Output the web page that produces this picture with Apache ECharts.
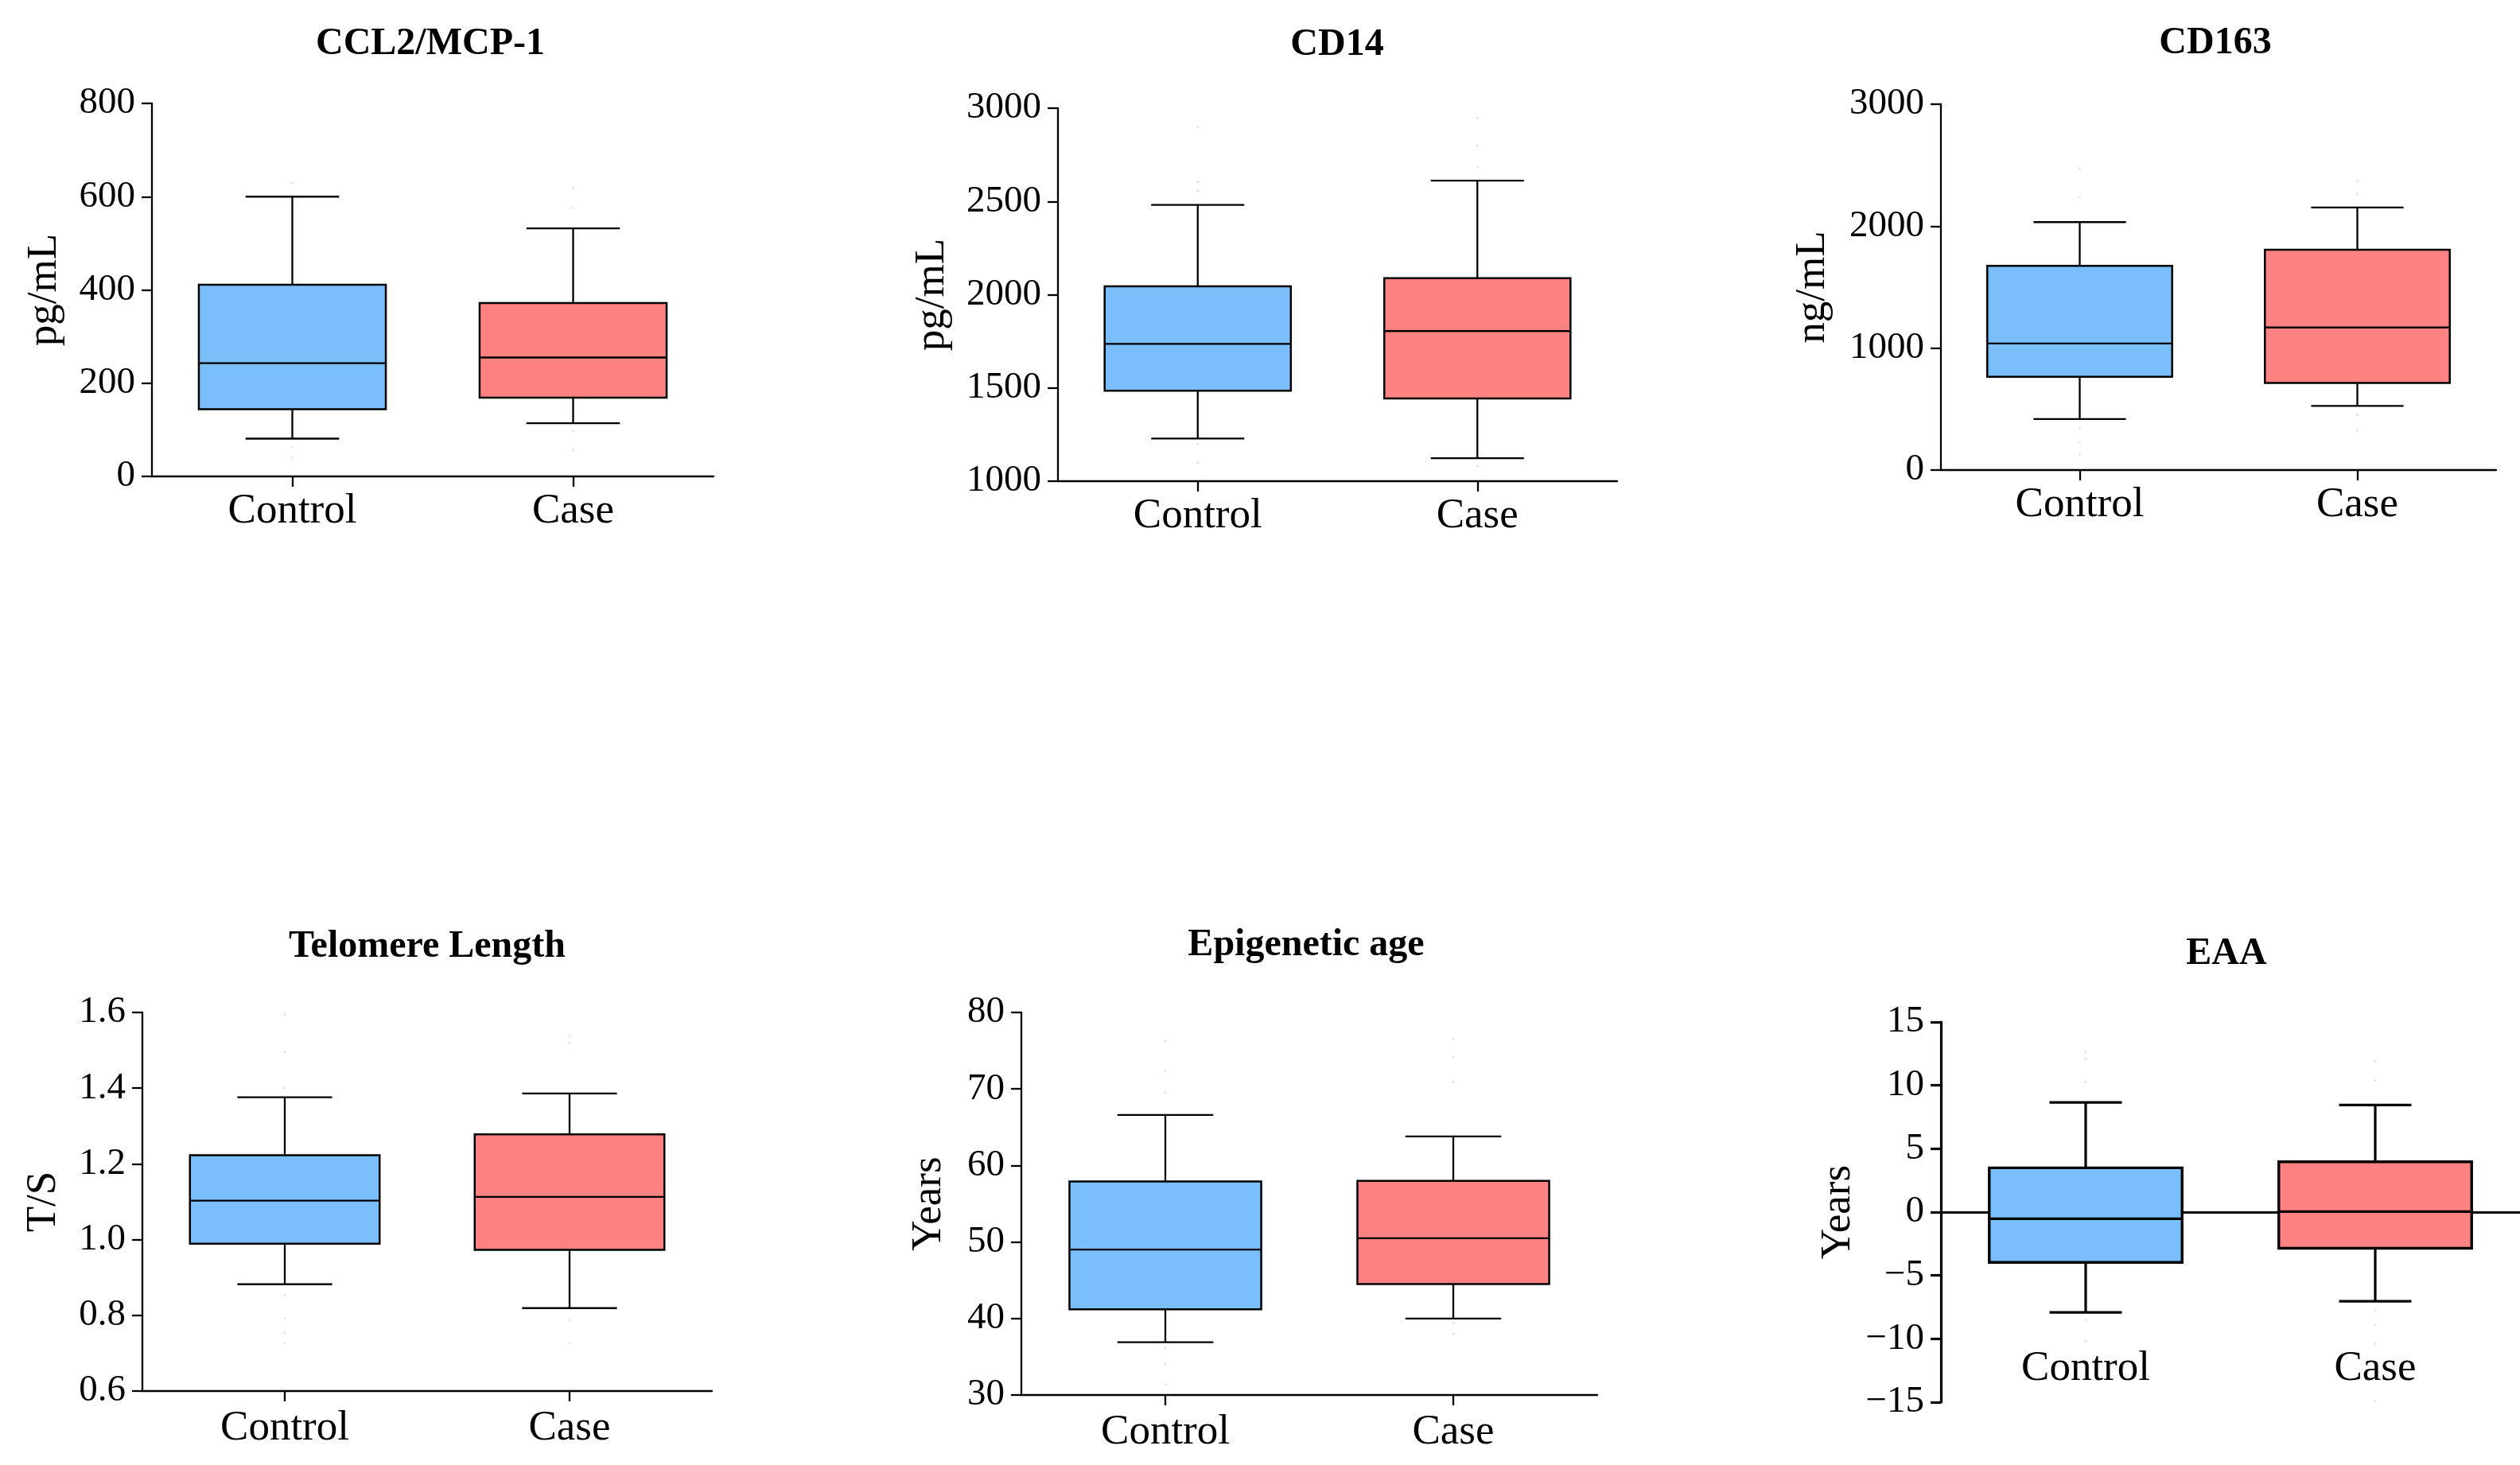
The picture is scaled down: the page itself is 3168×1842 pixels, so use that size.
<!DOCTYPE html>
<html>
<head>
<meta charset="utf-8">
<script src="https://cdn.jsdelivr.net/npm/echarts@6/dist/echarts.min.js"></script>
<style>
html,body{margin:0;padding:0;background:#fff;}
#chart{width:3168px;height:1842px;}
</style>
</head>
<body>
<div id="chart"></div>
<script>
// ---------- data ----------
const groups = ['Control', 'Case'];
const titles = ['CCL2/MCP-1', 'CD14', 'CD163', 'Telomere Length', 'Epigenetic age', 'EAA'];
const units = ['pg/mL', 'pg/mL', 'ng/mL', 'T/S', 'Years', 'Years'];
const yMin = [0, 1000, 0, 0.6, 30, -15];
const yMax = [800, 3000, 3000, 1.6, 80, 15];
const yStep = [200, 500, 1000, 0.2, 10, 5];

// [lower whisker, Q1, median, Q3, upper whisker]
const ccl2Control = [81, 144, 243, 411, 600];
const ccl2Case = [114, 169, 255, 372, 532];
const cd14Control = [1229, 1485, 1736, 2045, 2481];
const cd14Case = [1123, 1444, 1805, 2089, 2611];
const cd163Control = [418, 765, 1038, 1675, 2033];
const cd163Case = [526, 714, 1169, 1806, 2153];
const telControl = [0.882, 0.989, 1.103, 1.223, 1.376];
const telCase = [0.819, 0.973, 1.113, 1.278, 1.386];
const epiControl = [36.9, 41.2, 49.0, 57.9, 66.6];
const epiCase = [40.0, 44.5, 50.5, 58.0, 63.8];
const eaaControl = [-7.92, -3.97, -0.52, 3.49, 8.65];
const eaaCase = [-7.04, -2.86, 0.04, 3.97, 8.45];

// faint individual points outside whiskers
const ccl2ControlOut = [629, 63, 41];
const ccl2CaseOut = [620, 576, 97, 56];
const cd14ControlOut = [2901, 2604, 2558, 1201, 1099];
const cd14CaseOut = [2948, 2799, 2682, 1080];
const cd163ControlOut = [2474, 2238, 341, 227, 128];
const cd163CaseOut = [2369, 2261, 455, 327];
const telControlOut = [1.595, 1.496, 1.401, 0.853, 0.792, 0.754, 0.726];
const telCaseOut = [1.539, 1.52, 0.787, 0.726];
const epiControlOut = [76.3, 72.3, 69.5, 36.1, 34.0, 31.4];
const epiCaseOut = [76.5, 74.2, 70.9, 39.4, 38.0];
const eaaControlOut = [12.66, 12.1, 10.26, -8.5, -10.2];
const eaaCaseOut = [11.9, 10.4, -7.75, -8.9, -10.4, -14.9];

const boxData = [
  [ccl2Control, ccl2Case], [cd14Control, cd14Case], [cd163Control, cd163Case],
  [telControl, telCase], [epiControl, epiCase], [eaaControl, eaaCase]
];
const outData = [
  [ccl2ControlOut, ccl2CaseOut], [cd14ControlOut, cd14CaseOut], [cd163ControlOut, cd163CaseOut],
  [telControlOut, telCaseOut], [epiControlOut, epiCaseOut], [eaaControlOut, eaaCaseOut]
];

// ---------- layout / style ----------
const layout = [
  {left:191, top:130, width:706, height:469, tx:541, ty:32, gap:108, lm:18, cap:0.333, lw:2.3},
  {left:1330, top:136, width:703, height:469, tx:1681, ty:33, gap:131, lm:18, cap:0.333, lw:2.3},
  {left:2440, top:131, width:698, height:460, tx:2785, ty:31, gap:134, lm:18, cap:0.333, lw:2.3},
  {left:179, top:1273, width:716, height:476, tx:537, ty:1167, gap:97, lm:21, cap:0.333, lw:2.3},
  {left:1284, top:1273, width:724, height:481, tx:1642, ty:1165, gap:89, lm:21, cap:0.333, lw:2.3},
  {left:2440, top:1285, width:728, height:478, tx:2799, ty:1176, gap:102, lm:-68, cap:0.25, lw:3.2}
];
const FONT = '"Liberation Serif", "Times New Roman", serif';
const fills = ['#7ABFFB', '#FF8282'];

function fmt(i) {
  return function (v) {
    if (i === 3) return v.toFixed(1);
    if (v < 0) return '\u2212' + Math.abs(v);
    return String(v);
  };
}

function makeRender(l) {
  return function (params, api) {
    const xi = api.value(0);
    const lo = api.coord([xi, api.value(1)]);
    const q1 = api.coord([xi, api.value(2)]);
    const md = api.coord([xi, api.value(3)]);
    const q3 = api.coord([xi, api.value(4)]);
    const hi = api.coord([xi, api.value(5)]);
    const band = api.size([1, 0])[0];
    const bw = band * 0.666, cw = band * l.cap;
    const cx = lo[0];
    const st = {stroke:'#000', lineWidth:l.lw};
    return {
      type:'group',
      children:[
        {type:'line', shape:{x1:cx, y1:q3[1], x2:cx, y2:hi[1]}, style:st},
        {type:'line', shape:{x1:cx, y1:q1[1], x2:cx, y2:lo[1]}, style:st},
        {type:'line', shape:{x1:cx - cw/2, y1:hi[1], x2:cx + cw/2, y2:hi[1]}, style:st},
        {type:'line', shape:{x1:cx - cw/2, y1:lo[1], x2:cx + cw/2, y2:lo[1]}, style:st},
        {type:'rect', shape:{x:cx - bw/2, y:q3[1], width:bw, height:q1[1] - q3[1]},
          style:{fill:fills[params.dataIndex], stroke:'#000', lineWidth:l.lw + 0.2}},
        {type:'line', shape:{x1:cx - bw/2, y1:md[1], x2:cx + bw/2, y2:md[1]}, style:st}
      ]
    };
  };
}

const series = [];
boxData.forEach((pair, i) => {
  const l = layout[i];
  series.push({
    type:'scatter', xAxisIndex:i, yAxisIndex:i, symbolSize:3, silent:true,
    itemStyle:{color:'#dcdcdc'},
    data:[].concat(outData[i][0].map(v => [0, v]), outData[i][1].map(v => [1, v]))
  });
  series.push({
    type:'custom', xAxisIndex:i, yAxisIndex:i,
    renderItem:makeRender(l),
    encode:{x:0, y:[1, 2, 3, 4, 5]},
    data:pair.map((q, k) => [k].concat(q)),
    z:3
  });
});

const option = {
  animation:false,
  backgroundColor:'#ffffff',
  title: titles.map((t, i) => ({
    text:t, left:layout[i].tx, top:layout[i].ty, textAlign:'center', padding:0,
    textStyle:{fontFamily:FONT, fontWeight:'bold', fontSize:48, color:'#000'}
  })),
  grid: layout.map(l => ({left:l.left, top:l.top, width:l.width, height:l.height,
    containLabel:false, outerBoundsMode:'none'})),
  xAxis: layout.map((l, i) => ({
    type:'category', gridIndex:i, data:groups, boundaryGap:true,
    axisLine:{show:true, onZero:i === 5, lineStyle:{color:'#000', width:l.lw}},
    axisTick:{show:i !== 5, alignWithLabel:true, length:13, lineStyle:{color:'#000', width:l.lw}},
    axisLabel:{margin:l.lm, fontFamily:FONT, fontSize:53, color:'#000'},
    splitLine:{show:false}
  })),
  yAxis: layout.map((l, i) => ({
    type:'value', gridIndex:i, min:yMin[i], max:yMax[i], interval:yStep[i],
    name:units[i], nameLocation:'middle', nameGap:l.gap, nameRotate:90,
    nameTextStyle:{fontFamily:FONT, fontSize:53, color:'#000'},
    axisLine:{show:true, onZero:false, lineStyle:{color:'#000', width:l.lw}},
    axisTick:{show:true, length:13, lineStyle:{color:'#000', width:l.lw}},
    axisLabel:{margin:21, fontFamily:FONT, fontSize:47, color:'#000', formatter:fmt(i)},
    splitLine:{show:false}
  })),
  series: series
};

const chart = echarts.init(document.getElementById('chart'), null, {renderer:'canvas'});
chart.setOption(option);
</script>
</body>
</html>
